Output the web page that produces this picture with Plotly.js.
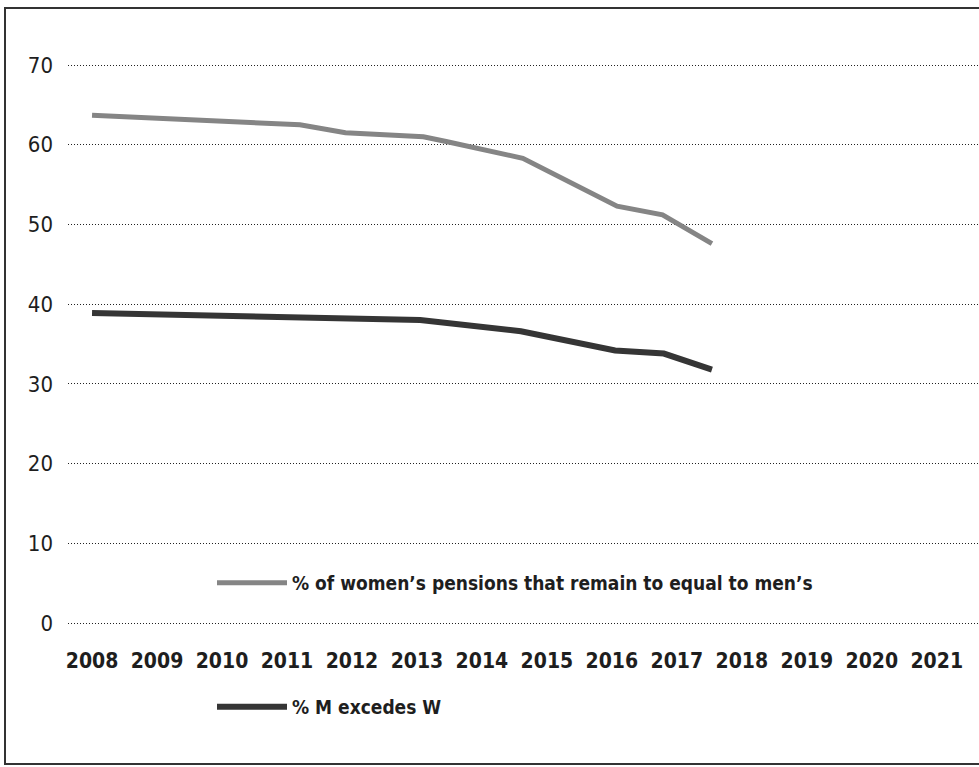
<!DOCTYPE html>
<html>
<head>
<meta charset="utf-8">
<script src="https://cdn.plot.ly/plotly-3.0.1.min.js"></script>
<style>
  html, body { margin: 0; padding: 0; background: #ffffff; }
  #chart { width: 979px; height: 767px; }
</style>
</head>
<body>
<div id="chart"></div>
<script>
// ---- Data ----
const yearTicks = [2008, 2009, 2010, 2011, 2012, 2013, 2014, 2015, 2016, 2017, 2018, 2019, 2020, 2021];
const yearLabels = ["2008", "2009", "2010", "2011", "2012", "2013", "2014", "2015", "2016", "2017", "2018", "2019", "2020", "2021"];
const yTicks = [0, 10, 20, 30, 40, 50, 60, 70];

const womenName = "% of women\u2019s pensions that remain to equal to men\u2019s";
const womenYears = [2008, 2011.2, 2011.9, 2013.1, 2013.45, 2014.63, 2016.08, 2016.78, 2017.54];
const womenValues = [63.7, 62.5, 61.5, 61.0, 60.4, 58.3, 52.3, 51.2, 47.6];

const menName = "% M excedes W";
const menYears = [2008, 2013.05, 2014.6, 2016.05, 2016.8, 2017.54];
const menValues = [38.9, 38.0, 36.6, 34.2, 33.8, 31.8];

// ---- Chart ----
const tickFont = "Liberation Sans Narrow, DejaVu Sans Condensed, Arial, sans-serif";

const traces = [
  {
    type: "scatter", mode: "lines", name: womenName,
    x: womenYears, y: womenValues,
    line: { color: "#858585", width: 5 },
    legend: "legend"
  },
  {
    type: "scatter", mode: "lines", name: menName,
    x: menYears, y: menValues,
    line: { color: "#353535", width: 6 },
    legend: "legend2"
  }
];

const legendFont = { family: tickFont, size: 19, color: "#1e1e1e", weight: "bold" };

const layout = {
  width: 979, height: 767,
  margin: { l: 68, r: 0, t: 25, b: 127, autoexpand: false },
  paper_bgcolor: "#ffffff", plot_bgcolor: "#ffffff",
  showlegend: true,
  xaxis: {
    type: "linear", range: [2007.63, 2021.65],
    tickvals: yearTicks, ticktext: yearLabels,
    showgrid: false, zeroline: false, showline: false, ticks: "",
    tickfont: { family: tickFont, size: 21, color: "#1e1e1e", weight: "bold" },
    ticklabelstandoff: 6, automargin: false
  },
  yaxis: {
    range: [-2.13, 75.02],
    tickvals: yTicks,
    showgrid: true, gridcolor: "#222222", gridwidth: 1, griddash: "1px,2px",
    zeroline: false, showline: false, ticks: "",
    tickfont: { family: tickFont, size: 22, color: "#1e1e1e" },
    ticklabelstandoff: 14, automargin: false
  },
  legend: {
    xref: "container", yref: "container",
    x: 212 / 979, y: 1 - 583 / 767, xanchor: "left", yanchor: "middle",
    bgcolor: "rgba(0,0,0,0)", borderwidth: 0, itemwidth: 70,
    font: legendFont
  },
  legend2: {
    xref: "container", yref: "container",
    x: 212 / 979, y: 1 - 707 / 767, xanchor: "left", yanchor: "middle",
    bgcolor: "rgba(0,0,0,0)", borderwidth: 0, itemwidth: 70,
    font: legendFont
  },
  shapes: [
    {
      type: "rect", xref: "paper", yref: "paper",
      x0: (5 - 68) / 911, x1: (990 - 68) / 911,
      y0: (640 - 764) / 615, y1: (640 - 8) / 615,
      line: { color: "#333333", width: 2 }, fillcolor: "rgba(0,0,0,0)", layer: "below"
    }
  ]
};

Plotly.newPlot("chart", traces, layout, { displayModeBar: false, staticPlot: true });
</script>
</body>
</html>
